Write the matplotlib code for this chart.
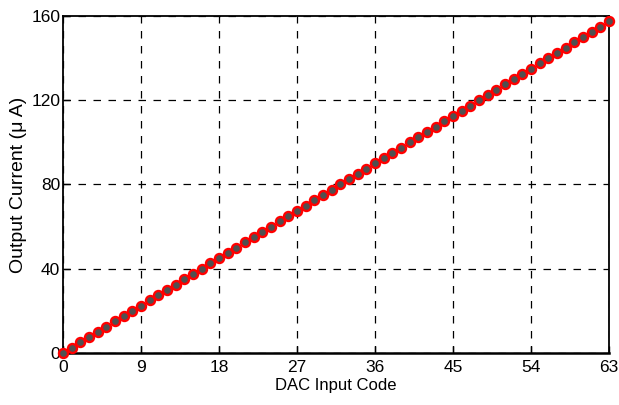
import matplotlib
matplotlib.use("Agg")
import matplotlib.pyplot as plt

codes = list(range(64))
current_uA = [0.0, 2.5, 5.0, 7.5, 10.0, 12.5, 15.0, 17.5, 20.0, 22.5,
              25.0, 27.5, 30.0, 32.5, 35.0, 37.5, 40.0, 42.5, 45.0, 47.5,
              50.0, 52.5, 55.0, 57.5, 60.0, 62.5, 65.0, 67.5, 70.0, 72.5,
              75.0, 77.5, 80.0, 82.5, 85.0, 87.5, 90.0, 92.5, 95.0, 97.5,
              100.0, 102.5, 105.0, 107.5, 110.0, 112.5, 115.0, 117.5, 120.0, 122.5,
              125.0, 127.5, 130.0, 132.5, 135.0, 137.5, 140.0, 142.5, 145.0, 147.5,
              150.0, 152.5, 155.0, 157.5]
x_ticks = [0, 9, 18, 27, 36, 45, 54, 63]
y_ticks = [0, 40, 80, 120, 160]

plt.rcParams['font.family'] = ['Liberation Sans', 'DejaVu Sans']

fig = plt.figure(figsize=(6.19, 4.05), dpi=100)
ax = fig.add_axes([63/619, 1 - 353/405, (609-63)/619, (353-16)/405])

ax.plot(codes, current_uA, linestyle='none', marker='o', markersize=6.5,
        markerfacecolor='#505050', markeredgecolor='#ff0000', markeredgewidth=1.7,
        clip_on=False, zorder=3)

ax.set_xlim(0, 63)
ax.set_ylim(0, 160)
ax.set_xticks(x_ticks)
ax.set_yticks(y_ticks)
ax.tick_params(direction='in', length=5, width=1, labelsize=12.5)
ax.tick_params(axis='x', pad=5)
ax.tick_params(axis='y', pad=2)
ax.grid(True, color='black', linestyle=(0, (6, 6)), linewidth=0.9)
for s in ax.spines.values():
    s.set_linewidth(1.3)
    s.set_color('black')
ax.spines['bottom'].set_linewidth(1.8)

ax.set_xlabel('DAC Input Code', fontsize=12, labelpad=2.5)
ax.set_ylabel('Output Current (μ A)', fontsize=14, labelpad=3)

fig.savefig('out.png', dpi=100)
